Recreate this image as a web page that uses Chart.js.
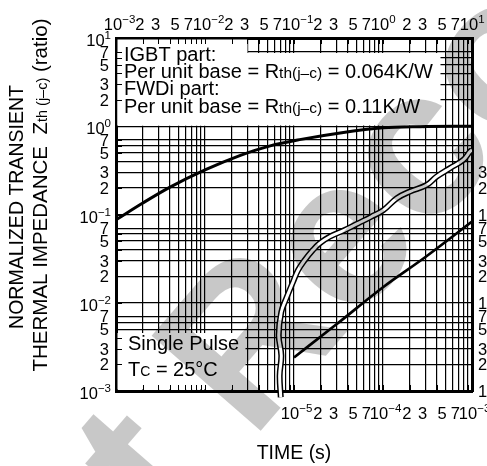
<!DOCTYPE html>
<html>
<head>
<meta charset="utf-8">
<title>Transient thermal impedance</title>
<script src="https://cdn.jsdelivr.net/npm/chart.js@4.4.1/dist/chart.umd.min.js"></script>
<style>
  html, body { margin: 0; padding: 0; background: #fff; overflow: hidden; }
  canvas { display: block; }
</style>
</head>
<body>
<canvas id="zthChart" width="487" height="466"></canvas>
<script>
// long pulse curve, read against the top time axis (s)
const igbtTime = [0.001, 0.002, 0.004, 0.01, 0.025, 0.054, 0.12, 0.33, 1, 2.6, 10];
const igbtZth = [0.087, 0.135, 0.203, 0.32, 0.468, 0.6, 0.71, 0.84, 0.96, 0.99, 1.0];

// short pulse curve, read against the bottom time axis (s)
const shortTime = [1e-5, 3e-5, 1e-4, 3e-4, 1e-3];
const shortZth = [0.0024, 0.0057, 0.015, 0.033, 0.083];

// wavy break line, top axis coordinates
const breakTime = [0.071, 0.069, 0.072, 0.0673, 0.072, 0.0819, 0.0975, 0.111, 0.132, 0.163, 0.194,
  0.252, 0.371, 0.524, 0.739, 1.01, 1.43, 2.01, 3.1, 4.01, 5.66, 7.98, 9.5, 10];
const breakZth = [0.00085, 0.0015, 0.00253, 0.00427, 0.00786, 0.0112, 0.0172, 0.0234, 0.0304, 0.0395, 0.0471,
  0.056, 0.0667, 0.0794, 0.0944, 0.112, 0.153, 0.182, 0.216, 0.269, 0.335, 0.416, 0.517, 0.54];

// tick labels
const topTicks = [0.001, 0.002, 0.003, 0.005, 0.007, 0.01, 0.02, 0.03, 0.05, 0.07, 0.1, 0.2, 0.3, 0.5, 0.7,
  1, 2, 3, 5, 7, 10];
const bottomTicks = [1e-5, 2e-5, 3e-5, 5e-5, 7e-5, 1e-4, 2e-4, 3e-4, 5e-4, 7e-4, 1e-3];
const leftTicks = [10, 7, 5, 3, 2, 1, 0.7, 0.5, 0.3, 0.2, 0.1, 0.07, 0.05, 0.03, 0.02, 0.01,
  0.007, 0.005, 0.003, 0.002, 0.001];
const rightTicks = [0.3, 0.2, 0.1, 0.07, 0.05, 0.03, 0.02, 0.01, 0.007, 0.005, 0.003, 0.002, 0.001];

// grid lines per decade
const gridX = [1, 2, 3, 4, 5, 6, 7, 8, 9];
const gridY = [1, 2, 3, 4, 5, 6, 7];

const FAMILY = "'Liberation Sans', Arial, Helvetica, sans-serif";
const font = size => size + 'px ' + FAMILY;
const TICK = 16.5;
const SUP = 11.5;
const NOTE = 20;
const NOTE_SUB = 15.5;

function decadeValues(fromExp, toExp, mantissas) {
    const out = [];
    for (let e = fromExp; e < toExp; e++) {
        mantissas.forEach(m => out.push(+(m * Math.pow(10, e)).toPrecision(3)));
    }
    out.push(Math.pow(10, toExp));
    return out;
}
const xGridVals = decadeValues(-3, 1, gridX);
const yGridVals = decadeValues(-3, 1, gridY);

function splitValue(v) {
    const e = Math.floor(Math.log10(v) + 1e-9);
    return { e: e, m: Math.round(v / Math.pow(10, e)) };
}
function supText(e) {
    return e < 0 ? '\u2212' + (-e) : String(e);
}

// "10" with superscript exponent; anchor 'base' centres the 10 on x, 'right' ends the label at x
function drawPower(ctx, x, y, e, anchor) {
    ctx.font = font(TICK);
    const wb = ctx.measureText('10').width;
    ctx.font = font(SUP);
    const ws = ctx.measureText(supText(e)).width;
    const x0 = anchor === 'right' ? x - wb - ws : x - wb / 2;
    ctx.textAlign = 'left';
    ctx.font = font(TICK);
    ctx.fillText('10', x0, y);
    ctx.font = font(SUP);
    ctx.fillText(supText(e), x0 + wb, y - 7);
}

function drawRuns(ctx, x, y, runs) {
    ctx.textAlign = 'left';
    runs.forEach(([text, size]) => {
        ctx.font = font(size);
        ctx.fillText(text, x, y);
        x += ctx.measureText(text).width;
    });
    return x;
}
function runsWidth(ctx, runs) {
    let w = 0;
    runs.forEach(([text, size]) => { ctx.font = font(size); w += ctx.measureText(text).width; });
    return w;
}

const sheetPlugin = {
    id: 'sheet',
    beforeDraw(chart) {
        const ctx = chart.ctx;
        ctx.save();
        ctx.fillStyle = '#fff';
        ctx.fillRect(0, 0, chart.width, chart.height);
        ctx.restore();
    },
    beforeDatasetsDraw(chart) {
        const { ctx, chartArea: a, scales } = chart;
        ctx.save();

        // white panels behind the notes
        ctx.fillStyle = '#fff';
        ctx.fillRect(a.left + 1.5, a.top + 1.5, 130, 86);
        ctx.fillRect(a.left + 1.5, a.top + 15, 323, 72.5);
        ctx.fillRect(a.left + 1.5, a.bottom - 58, 128, 56.5);

        // inward tick marks on the frame
        ctx.strokeStyle = '#000';
        ctx.lineWidth = 1;
        ctx.beginPath();
        xGridVals.forEach(v => {
            const px = Math.round(scales.x.getPixelForValue(v)) + 0.5;
            ctx.moveTo(px, a.top); ctx.lineTo(px, a.top + 6);
            ctx.moveTo(px, a.bottom); ctx.lineTo(px, a.bottom - 6);
        });
        yGridVals.forEach(v => {
            const py = Math.round(scales.y.getPixelForValue(v)) + 0.5;
            ctx.moveTo(a.left, py); ctx.lineTo(a.left + 6, py);
        });
        ctx.stroke();

        ctx.fillStyle = '#000';
        ctx.textBaseline = 'alphabetic';

        // notes
        const tx = a.left + 8;
        drawRuns(ctx, tx, 61, [['IGBT part:', NOTE]]);
        drawRuns(ctx, tx, 78, [['Per unit base = R', NOTE], ['th(j\u2013c)', NOTE_SUB], [' = 0.064K/W', NOTE]]);
        drawRuns(ctx, tx, 95, [['FWDi part:', NOTE]]);
        drawRuns(ctx, tx, 112.5, [['Per unit base = R', NOTE], ['th(j\u2013c)', NOTE_SUB], [' = 0.11K/W', NOTE]]);
        drawRuns(ctx, a.left + 12, 350, [['Single Pulse', NOTE]]);
        drawRuns(ctx, a.left + 12, 376, [['T', NOTE], ['C', 14], [' = 25\u00b0C', NOTE]]);

        // top axis labels
        topTicks.forEach(v => {
            const { e, m } = splitValue(v);
            const px = scales.x.getPixelForValue(v);
            if (m === 1) {
                drawPower(ctx, px - 3, 30, e, 'base');
            } else {
                ctx.font = font(TICK);
                ctx.textAlign = 'center';
                ctx.fillText(String(m), px - 3, 30);
            }
        });

        // bottom axis labels
        bottomTicks.forEach(v => {
            const { e, m } = splitValue(v);
            const px = scales.x2.getPixelForValue(v);
            if (m === 1) {
                drawPower(ctx, px - 4, 419, e, 'base');
            } else {
                ctx.font = font(TICK);
                ctx.textAlign = 'center';
                ctx.fillText(String(m), px - 3, 419);
            }
        });

        // left axis labels
        leftTicks.forEach(v => {
            const { e, m } = splitValue(v);
            const py = scales.y.getPixelForValue(v);
            if (m === 1) {
                drawPower(ctx, 111, py + 8, e, 'right');
            } else {
                ctx.font = font(TICK);
                ctx.textAlign = 'right';
                ctx.fillText(String(m), 109, py + 6);
            }
        });

        // right axis labels (cut by the page edge)
        rightTicks.forEach(v => {
            const { m } = splitValue(v);
            const py = scales.yR.getPixelForValue(v);
            ctx.font = font(TICK);
            ctx.textAlign = 'left';
            ctx.fillText(String(m), a.right + 6, py + 6);
        });

        // axis titles
        ctx.font = font(19.5);
        ctx.textAlign = 'center';
        ctx.fillText('TIME (s)', (a.left + a.right) / 2, 459);

        ctx.save();
        ctx.translate(23, 207);
        ctx.rotate(-Math.PI / 2);
        ctx.font = font(19.5);
        ctx.textAlign = 'center';
        ctx.fillText('NORMALIZED TRANSIENT', 0, 0);
        ctx.restore();

        const line2 = [['THERMAL IMPEDANCE  Z', 20.5], ['th (j\u2013c)', 14.5], [' (ratio)', 20.5]];
        ctx.save();
        ctx.translate(47, 195);
        ctx.rotate(-Math.PI / 2);
        drawRuns(ctx, -runsWidth(ctx, line2) / 2, 0, line2);
        ctx.restore();

        ctx.restore();
    },
    afterDraw(chart) {
        // faint diagonal stamp over the sheet
        const ctx = chart.ctx;
        ctx.save();
        ctx.globalCompositeOperation = 'multiply';
        ctx.fillStyle = '#c8c8c8';
        ctx.font = 'bold 210px ' + FAMILY;
        ctx.textAlign = 'left';
        ctx.textBaseline = 'alphabetic';
        ctx.translate(348, 247);
        ctx.rotate(-49 * Math.PI / 180);
        const pre = ctx.measureText('Not R').width;
        const ew = ctx.measureText('e').width;
        ctx.fillText('Not Recommended', -(pre + ew / 2), 0.26 * 210);
        ctx.restore();
    }
};

const setTicks = vals => scale => { scale.ticks = vals.map(v => ({ value: v })); };
const frame = { color: '#000', width: 3 };
const grid = { color: '#000', lineWidth: 1.2, drawTicks: false };

const pts = (xs, ys) => xs.map((x, i) => ({ x: x, y: ys[i] }));

new Chart(document.getElementById('zthChart'), {
    type: 'line',
    data: {
        datasets: [
            {
                data: pts(breakTime, breakZth), xAxisID: 'x', yAxisID: 'y',
                borderColor: '#fff', borderWidth: 3, tension: 0.4, pointRadius: 0,
                clip: { left: 0, top: 0, right: 0, bottom: 8 }, order: 0
            },
            {
                data: pts(breakTime, breakZth), xAxisID: 'x', yAxisID: 'y',
                borderColor: '#000', borderWidth: 6, tension: 0.4, pointRadius: 0,
                clip: { left: 0, top: 0, right: 0, bottom: 8 }, order: 1
            },
            {
                data: pts(igbtTime, igbtZth), xAxisID: 'x', yAxisID: 'y',
                borderColor: '#000', borderWidth: 3, cubicInterpolationMode: 'monotone',
                pointRadius: 0, order: 2
            },
            {
                data: pts(shortTime, shortZth), xAxisID: 'x2', yAxisID: 'y',
                borderColor: '#000', borderWidth: 2.7, cubicInterpolationMode: 'monotone',
                pointRadius: 0, order: 3
            }
        ]
    },
    options: {
        responsive: false,
        animation: false,
        events: [],
        layout: { padding: 0 },
        plugins: { legend: { display: false }, tooltip: { enabled: false } },
        scales: {
            x: {
                type: 'logarithmic', position: 'top', min: 1e-3, max: 10,
                afterBuildTicks: setTicks(xGridVals),
                afterFit: s => { s.height = 38; },
                ticks: { display: false }, grid: grid, border: frame
            },
            x2: {
                type: 'logarithmic', position: 'bottom', min: 1e-7, max: 1e-3,
                afterFit: s => { s.height = 75; },
                ticks: { display: false }, grid: { display: false, drawTicks: false }, border: frame
            },
            y: {
                type: 'logarithmic', position: 'left', min: 1e-3, max: 10,
                afterBuildTicks: setTicks(yGridVals),
                afterFit: s => { s.width = 116; },
                ticks: { display: false }, grid: grid, border: frame
            },
            yR: {
                type: 'logarithmic', position: 'right', min: 1e-3, max: 10,
                afterFit: s => { s.width = 15; },
                ticks: { display: false }, grid: { display: false, drawTicks: false }, border: frame
            }
        }
    },
    plugins: [sheetPlugin]
});
</script>
</body>
</html>
